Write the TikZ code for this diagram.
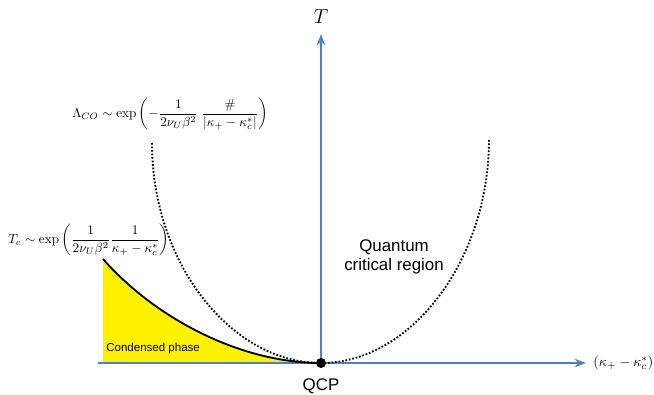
\documentclass[tikz,border=0pt]{standalone}
\usepackage{amsmath}
\usepackage{fontspec}
\setsansfont{Liberation Sans}
\usetikzlibrary{arrows.meta,positioning}
\definecolor{AxisBlue}{RGB}{79,129,189}

\begin{document}
\begin{tikzpicture}[x=0.025cm, y=-0.025cm,
		axis/.style={line width=1.4pt, AxisBlue, -{Stealth[length=8pt,width=6pt]}},
		crossover/.style={line width=1.3pt, dash pattern=on 1.2pt off 1.3pt},
		formula/.style={anchor=west, inner sep=0, scale=0.94},
		regiontext/.style={font=\sffamily\large, align=center}]
			\useasboundingbox (0,0) rectangle (654,395);
			\coordinate (QCP) at (321,363);
			\coordinate (Xstart) at (98,363);
			\coordinate (Xtip) at (586,363);
			\coordinate (Ttip) at (321,34);
			\coordinate (TcTop) at (103,259);
			\coordinate (TcFoot) at (103,363);
			\coordinate (COleft) at (152,143);
			\coordinate (COright) at (489,140);
			% condensed phase
			\fill[yellow] (TcFoot) -- (TcTop) .. controls (155,318) and (240,363) .. (QCP) -- cycle;
			\draw[axis] (Xstart) -- (Xtip);
			\draw[axis] (QCP) -- (Ttip);
			\draw[line width=1.3pt] (TcTop) .. controls (155,318) and (240,363) .. (QCP);
			% crossover lines
			\draw[crossover] (COleft) .. controls (152,263) and (231,363) .. (QCP);
			\draw[crossover] (QCP) .. controls (411,363) and (489,260) .. (COright);
			\fill (QCP) circle (5);
			\node (Tlabel) at (321,17) {\Large $T$};
			\node[anchor=west, inner sep=0] (Xlabel) at (593,363) {$(\kappa_+-\kappa_c^*)$};
			\node[formula] (LCO) at (72,114) {$\Lambda_{CO}\sim\exp\left(-\dfrac{1}{2\nu_U\beta^2}\;\dfrac{\#}{|\kappa_+-\kappa_c^*|}\right)$};
			\node[formula] (Tc) at (8,240) {$T_c\sim\exp\left(\dfrac{1}{2\nu_U\beta^2}\dfrac{1}{\kappa_+-\kappa_c^*}\right)$};
			\node[regiontext] (QCR) at (394,257) {Quantum\\critical region};
			\node[anchor=west, inner sep=0, font=\sffamily\fontsize{8.2}{10}\selectfont] (CP) at (106,349) {Condensed phase};
			\node[regiontext] (QCPlabel) at (321,386) {QCP};
		\end{tikzpicture}
\end{document}
